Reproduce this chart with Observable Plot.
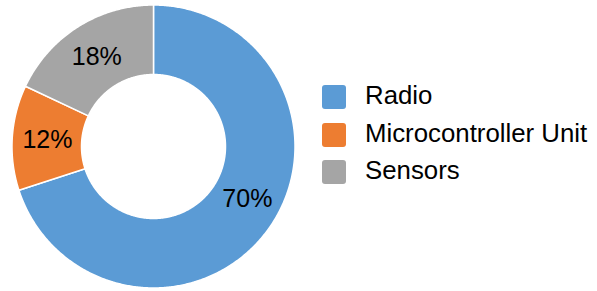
<!DOCTYPE html>
<html>
<head>
<meta charset="utf-8">
<script src="https://cdn.jsdelivr.net/npm/d3@7"></script>
<script src="https://cdn.jsdelivr.net/npm/@observablehq/plot@0.6"></script>
<style>
  html, body { margin: 0; padding: 0; background: #fff; }
  #wrap { position: relative; width: 597px; height: 291px; font-family: "Liberation Sans", Arial, sans-serif; }
  #legend { position: absolute; left: 322px; top: 0; }
  .row { position: absolute; left: 0; white-space: nowrap; height: 25px; }
  .sw { position: absolute; left: 0; width: 24px; height: 24px; border-radius: 3px; }
  .lbl { position: absolute; left: 43px; font-size: 25.8px; line-height: 26px; color: #000; }
</style>
</head>
<body>
<div id="wrap"></div>
<script>
const categories = ["Radio", "Microcontroller Unit", "Sensors"];
const shares = [70, 12, 18];
const labels = ["70%", "12%", "18%"];
const colors = ["#5B9BD5", "#ED7D31", "#A5A5A5"];

// geometry (layout, not data)
const cx = 153.5, cy = 146.5, R = 141.5;
const rIn = 72 / R, rOut = 1;

const pie = d3.pie().sort(null).value(d => d)(shares);

const ring = [];
const labelRows = [];
pie.forEach((p, i) => {
  const a0 = p.startAngle, a1 = p.endAngle;
  const n = Math.max(2, Math.ceil((a1 - a0) / (Math.PI / 360)));
  for (let k = 0; k <= n; k++) {
    const a = a0 + (a1 - a0) * k / n;
    ring.push({
      cat: categories[i],
      x1: rIn * Math.sin(a), y1: rIn * Math.cos(a),
      x2: rOut * Math.sin(a), y2: rOut * Math.cos(a)
    });
  }
  const am = (a0 + a1) / 2, rm = (rIn + rOut) / 2;
  labelRows.push({ x: rm * Math.sin(am), y: rm * Math.cos(am), text: labels[i], big: i === 0 });
});

const chart = Plot.plot({
  width: 597,
  height: 291,
  margin: 0,
  style: { fontFamily: "'Liberation Sans', Arial, sans-serif", background: "white" },
  x: { domain: [-1, 1], range: [cx - R, cx + R], axis: null },
  y: { domain: [-1, 1], range: [cy + R, cy - R], axis: null },
  color: { domain: categories, range: colors },
  marks: [
    Plot.area(ring, {
      x1: "x1", y1: "y1", x2: "x2", y2: "y2",
      z: "cat", fill: "cat", stroke: "white", strokeWidth: 1.5, curve: "linear"
    }),
    Plot.text(labelRows.filter(d => !d.big), {
      x: "x", y: "y", text: "text", fontSize: 25, fill: "black"
    }),
    Plot.text(labelRows.filter(d => d.big), {
      x: "x", y: "y", text: "text", fontSize: 25, fill: "black", dx: 7, dy: -11
    })
  ]
});

const wrap = document.getElementById("wrap");
wrap.appendChild(chart);

const legend = document.createElement("div");
legend.id = "legend";
categories.forEach((c, i) => {
  const row = document.createElement("div");
  row.className = "row";
  row.style.top = (85 + i * 37.5) + "px";
  const sw = document.createElement("div");
  sw.className = "sw";
  sw.style.background = colors[i];
  const t = document.createElement("div");
  t.className = "lbl";
  t.style.top = "-3px";
  t.textContent = c;
  row.appendChild(sw);
  row.appendChild(t);
  legend.appendChild(row);
});
wrap.appendChild(legend);
</script>
</body>
</html>
